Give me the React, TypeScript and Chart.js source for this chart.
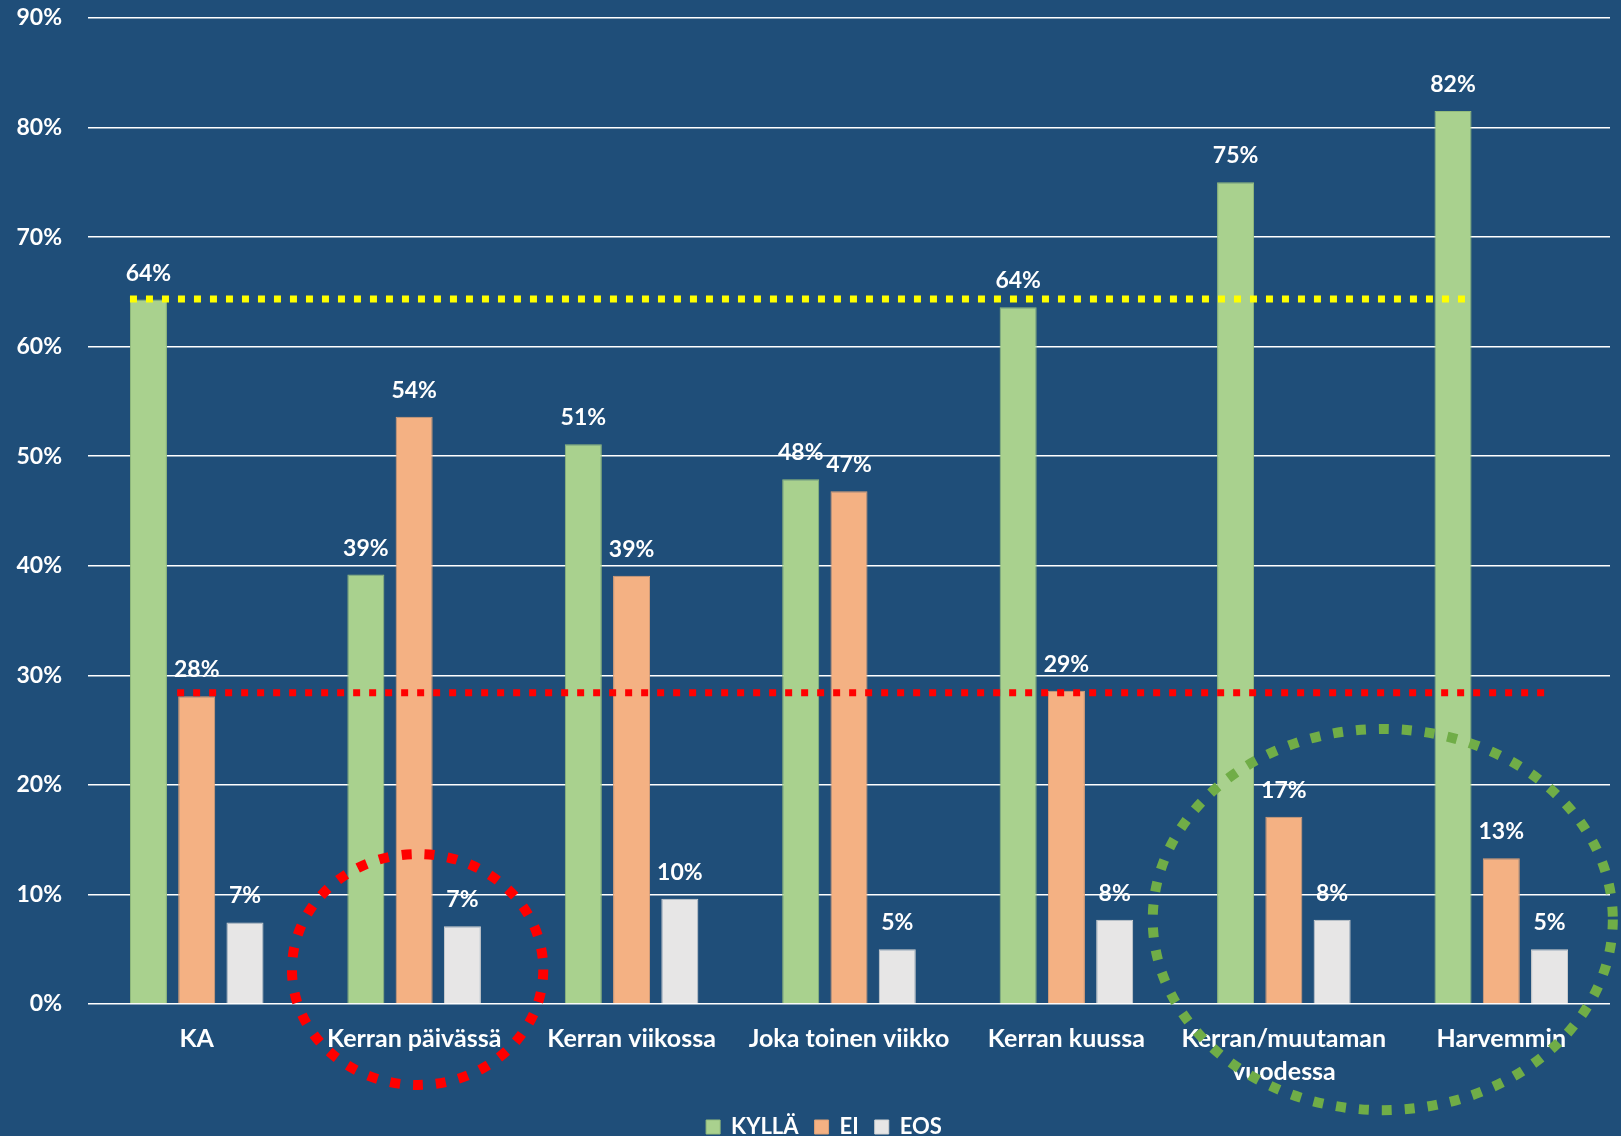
import React, { useEffect, useRef } from 'react';
import { Chart, registerables } from 'chart.js';

Chart.register(...registerables);

const categories: (string | string[])[] = [
  'KA',
  'Kerran päivässä',
  'Kerran viikossa',
  'Joka toinen viikko',
  'Kerran kuussa',
  ['Kerran/muutaman', 'vuodessa'],
  'Harvemmin',
];
const seriesNames = ['KYLLÄ', 'EI', 'EOS'];
const kylla = [64.3, 39.2, 51.1, 47.9, 63.6, 75.0, 81.5];
const ei = [28.1, 53.6, 39.1, 46.8, 28.6, 17.1, 13.3];
const eos = [7.45, 7.1, 9.6, 5.0, 7.7, 7.7, 5.0];
const seriesColors = ['#A9D18E', '#F4B183', '#E7E6E6'];
const seriesBorders = ['#94BC7C', '#DDA077', '#D2D2D2'];
const yMin = 0;
const yMax = 90;
const yStep = 10;

// reference lines (value in %, span in category-index units)
const refLines = [
  { value: 64.35, from: -0.307, to: 5.846, color: '#FFFF00' },
  { value: 28.4, from: -0.09, to: 6.2, color: '#FF0000' },
];
// highlight ellipses (center in category index / %, radii in category widths / %)
const ellipses = [
  { cx: 1.016, cy: 3.15, rx: 0.578, ry: 10.54, color: '#FF0000' },
  { cx: 5.455, cy: 7.71, rx: 1.058, ry: 17.4, color: '#70AD47' },
];

const BG = '#1F4E79';
const FONT = 'Lato';
const LEGEND_SHIFT = 19;

const overlayPlugin = {
  id: 'overlay',
  afterLayout(chart: any) {
    const lg = chart.legend;
    if (lg) {
      lg.left += LEGEND_SHIFT;
      lg.right += LEGEND_SHIFT;
    }
  },
  afterDraw(chart: any) {
    const ctx = chart.ctx;
    const xs = chart.scales.x;
    const ys = chart.scales.y;
    ctx.save();
    // data labels
    ctx.fillStyle = '#FFFFFF';
    ctx.font = `bold 23px ${FONT}`;
    ctx.textAlign = 'center';
    ctx.textBaseline = 'alphabetic';
    chart.data.datasets.forEach((ds: any, di: number) => {
      const meta = chart.getDatasetMeta(di);
      meta.data.forEach((bar: any, i: number) => {
        const v = ds.data[i];
        ctx.fillText(`${Math.round(v)}%`, bar.x, bar.y - 19);
      });
    });
    // reference lines
    ctx.lineWidth = 7;
    ctx.setLineDash([7, 9]);
    ctx.lineCap = 'butt';
    refLines.forEach((l) => {
      const y = ys.getPixelForValue(l.value);
      ctx.strokeStyle = l.color;
      ctx.beginPath();
      ctx.moveTo(xs.getPixelForValue(l.from), y);
      ctx.lineTo(xs.getPixelForValue(l.to), y);
      ctx.stroke();
    });
    // ellipses
    const catW = xs.getPixelForValue(1) - xs.getPixelForValue(0);
    ctx.lineWidth = 10;
    ctx.setLineDash([10, 13]);
    ellipses.forEach((e) => {
      const cx = xs.getPixelForValue(e.cx);
      const cy = ys.getPixelForValue(e.cy);
      const rx = e.rx * catW;
      const ry = ys.getPixelForValue(0) - ys.getPixelForValue(e.ry);
      ctx.strokeStyle = e.color;
      ctx.beginPath();
      ctx.ellipse(cx, cy, rx, ry, 0, 0, Math.PI * 2);
      ctx.stroke();
    });
    ctx.restore();
  },
};

export default function App() {
  const ref = useRef<HTMLCanvasElement | null>(null);
  useEffect(() => {
    document.body.style.margin = '0';
    document.body.style.background = BG;
    let chart: Chart | null = null;
    let cancelled = false;
    const make = () => {
      if (cancelled || !ref.current) return;
      Chart.defaults.font.family = FONT;
      chart = new Chart(ref.current, {
        type: 'bar',
        data: {
          labels: categories as any,
          datasets: [kylla, ei, eos].map((d, i) => ({
            label: seriesNames[i],
            data: d,
            backgroundColor: seriesColors[i],
            borderColor: seriesBorders[i],
            borderWidth: 1,
            categoryPercentage: 0.666,
            barPercentage: 0.767,
          })),
        },
        options: {
          animation: false,
          responsive: false,
          devicePixelRatio: 1,
          layout: { padding: { top: 18, right: 11, left: 0, bottom: -12 } },
          plugins: {
            tooltip: { enabled: false },
            legend: {
              position: 'bottom',
              labels: {
                color: '#FFFFFF',
                font: { size: 22, weight: 'bold', family: FONT },
                boxWidth: 14,
                boxHeight: 14,
                padding: 16,
              },
            },
          },
          scales: {
            x: {
              grid: { display: false, drawTicks: false },
              border: { display: false },
              ticks: {
                color: '#FFFFFF',
                font: { size: 25, weight: 'bold', family: FONT, lineHeight: 1.3 },
                padding: 19,
                maxRotation: 0,
                autoSkip: false,
              },
              afterFit: (s: any) => {
                s.height = 96;
              },
            },
            y: {
              min: yMin,
              max: yMax,
              grid: { color: '#FFFFFF', lineWidth: 1.5, drawTicks: false },
              border: { display: false },
              ticks: {
                stepSize: yStep,
                color: '#FFFFFF',
                font: { size: 23, weight: 'bold', family: FONT },
                padding: 26,
                callback: (v: any) => `${v}%`,
              },
              afterFit: (s: any) => {
                s.width = 88;
                s.paddingTop = 0;
              },
            },
          },
        },
        plugins: [overlayPlugin],
      });
    };
    const fontsReady = (document as any).fonts
      ? Promise.all([
          (document as any).fonts.load(`bold 22px ${FONT}`),
          (document as any).fonts.load(`22px ${FONT}`),
        ]).catch(() => null)
      : Promise.resolve(null);
    fontsReady.then(make);
    return () => {
      cancelled = true;
      if (chart) chart.destroy();
    };
  }, []);
  return (
    <div style={{ width: 1621, height: 1136, background: BG, overflow: 'hidden' }}>
      <canvas ref={ref} width={1621} height={1136} style={{ display: 'block' }} />
    </div>
  );
}
